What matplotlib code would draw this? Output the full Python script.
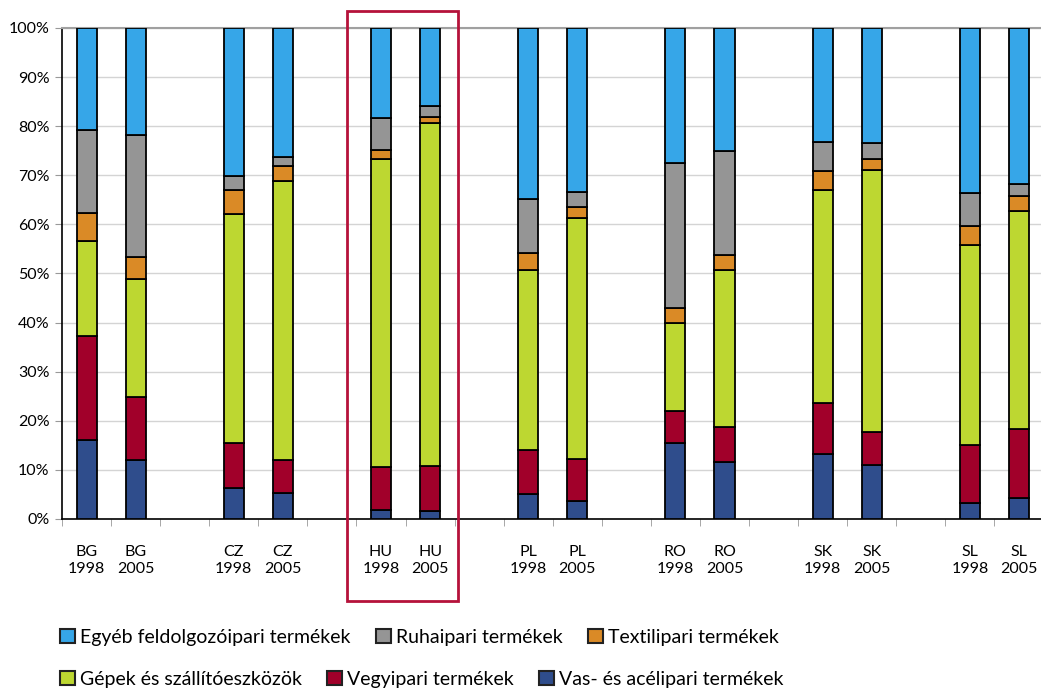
import matplotlib
matplotlib.use("Agg")
import matplotlib.pyplot as plt
import numpy as np
from matplotlib.patches import Rectangle

plt.rcParams['font.family'] = ['Lato', 'DejaVu Sans']

# Kategóriák (ország + év)
orszagok = ['BG', 'BG', 'CZ', 'CZ', 'HU', 'HU', 'PL', 'PL', 'RO', 'RO', 'SK', 'SK', 'SL', 'SL']
evek = ['1998', '2005'] * 7

# Részesedések (%), alulról felfelé
vas = [16.0, 12.0, 6.4, 5.2, 1.9, 1.6, 5.1, 3.6, 15.5, 11.5, 13.3, 11.0, 3.3, 4.3]
vegyi = [21.2, 12.9, 9.1, 6.8, 8.6, 9.1, 8.9, 8.6, 6.5, 7.2, 10.3, 6.8, 11.7, 14.0]
gepek = [19.4, 24.0, 46.6, 56.9, 62.8, 69.9, 36.7, 49.1, 18.0, 32.0, 43.4, 53.3, 40.7, 44.5]
textil = [5.7, 4.5, 4.9, 2.9, 1.8, 1.3, 3.5, 2.2, 3.0, 3.1, 3.9, 2.3, 4.0, 3.0]
ruha = [17.0, 24.8, 2.9, 1.9, 6.6, 2.3, 10.9, 3.1, 29.5, 21.1, 5.8, 3.1, 6.7, 2.5]
egyeb = [20.7, 21.8, 30.1, 26.3, 18.3, 15.8, 34.9, 33.4, 27.5, 25.1, 23.3, 23.5, 33.6, 31.7]

sorozatok = [
    ('Vas- és acélipari termékek', vas, '#2F4D8C'),
    ('Vegyipari termékek', vegyi, '#A1002A'),
    ('Gépek és szállítóeszközök', gepek, '#BDD731'),
    ('Textilipari termékek', textil, '#DA8A26'),
    ('Ruhaipari termékek', ruha, '#959595'),
    ('Egyéb feldolgozóipari termékek', egyeb, '#36A6E8'),
]

# pozíciók: két oszlop, egy üres hely
x = np.array([3 * (i // 2) + (i % 2) for i in range(len(orszagok))])

fig = plt.figure(figsize=(10.41, 6.91), dpi=100)
ax = fig.add_axes([0.0596, 0.249, 0.9404, 0.7105])

also = np.zeros(len(x))
oszlopok = {}
for nev, ertek, szin in sorozatok:
    b = ax.bar(x, ertek, width=0.41, bottom=also, color=szin,
               edgecolor='black', linewidth=1.3, label=nev, zorder=3)
    oszlopok[nev] = b
    also += np.array(ertek)

ax.set_ylim(0, 100)
ax.set_xlim(-0.5, 19.45)
ax.set_yticks(np.arange(0, 101, 10))
ax.set_yticklabels([f'{v}%' for v in range(0, 101, 10)], fontsize=11.5)
ax.yaxis.grid(True, color='#d4d4d4', linewidth=1)
ax.set_axisbelow(True)

ax.set_xticks(x)
ax.set_xticklabels([f'{o}\n{e}' for o, e in zip(orszagok, evek)], fontsize=11.5,
                   linespacing=1.2)
ax.tick_params(axis='x', which='major', length=0, pad=19)
ax.set_xticks(np.arange(-0.5, 19.5, 1), minor=True)
ax.tick_params(axis='x', which='minor', length=5, color='#999999')
ax.tick_params(axis='y', length=5, color='#999999', pad=4)

ax.spines['right'].set_visible(False)
ax.spines['top'].set_color('#a0a0a0')
ax.spines['top'].set_linewidth(1.5)
ax.spines['left'].set_linewidth(1.2)
ax.spines['bottom'].set_linewidth(1.2)

# kiemelés: HU
ax.add_patch(Rectangle((5.3, -16.7), 2.27, 120.2, fill=False,
                       edgecolor='#B5123A', linewidth=2, clip_on=False, zorder=5))

# jelmagyarázat két sorban
sor1 = ['Egyéb feldolgozóipari termékek', 'Ruhaipari termékek', 'Textilipari termékek']
sor2 = ['Gépek és szállítóeszközök', 'Vegyipari termékek', 'Vas- és acélipari termékek']
for sor, yy in [(sor1, 0.078), (sor2, 0.017)]:
    leg = fig.legend([oszlopok[n] for n in sor], sor, loc='center left',
                     bbox_to_anchor=(0.0575, yy), ncol=3, frameon=False,
                     fontsize=14, handlelength=0.78, handleheight=0.78,
                     handletextpad=0.25, columnspacing=1.3, borderpad=0,
                     borderaxespad=0)
    for h in leg.legend_handles:
        h.set_edgecolor('#222222')
        h.set_linewidth(1.5)

fig.savefig('out.png', dpi=100)
